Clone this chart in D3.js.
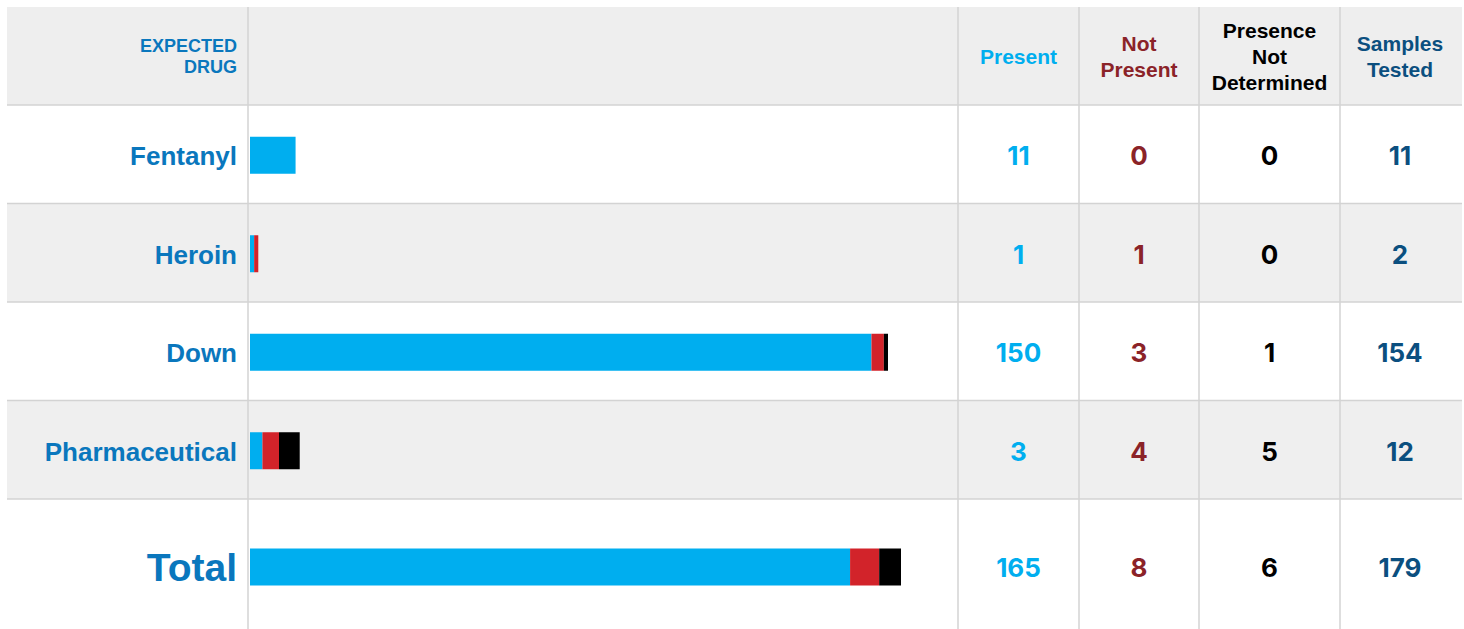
<!DOCTYPE html>
<html>
<head>
<meta charset="utf-8">
<script src="https://cdn.jsdelivr.net/npm/d3@7"></script>
<style>
  body { margin: 0; background: #fff; }
  svg { display: block; }
</style>
</head>
<body>
<div id="chart"></div>
<script>
// table data
const drugs = ['Fentanyl', 'Heroin', 'Down', 'Pharmaceutical'];
const present = [11, 1, 150, 3];
const notPresent = [0, 1, 3, 4];
const notDetermined = [0, 0, 1, 5];
const tested = [11, 2, 154, 12];
const totals = [165, 8, 6, 179];

const columnHeaders = [['Present'], ['Not', 'Present'], ['Presence', 'Not', 'Determined'], ['Samples', 'Tested']];
const columnColors = ['#00aeef', '#8b2328', '#000000', '#0b4f7f'];
const barColors = ['#00aeef', '#d2232a', '#000000'];

const width = 1464;
const height = 629;
const tableLeft = 7, tableRight = 1462, tableTop = 7;
const headerH = 98;
const rowH = 98.5;
const labelEdge = 248;
const colEdges = [958, 1079, 1199, 1340, tableRight];
const barH = 37;

const svg = d3.select('#chart').append('svg')
  .attr('width', width)
  .attr('height', height);

const rows = drugs.map((name, i) => ({
  name,
  values: [present[i], notPresent[i], notDetermined[i], tested[i]],
  total: false
}));
rows.push({ name: 'Total', values: totals, total: true });

const rowTop = i => tableTop + headerH + i * rowH;
const rowBottom = i => rows[i].total ? height : rowTop(i + 1);

// bar scales: drug rows share one, total row has its own
const x = d3.scaleLinear().domain([0, d3.max(tested)]).range([0, 638]);
const xTotal = d3.scaleLinear().domain([0, totals[3]]).range([0, 651]);

// backgrounds
svg.append('rect')
  .attr('x', tableLeft).attr('y', tableTop)
  .attr('width', tableRight - tableLeft).attr('height', headerH)
  .attr('fill', '#eeeeee');

rows.forEach((r, i) => {
  svg.append('rect')
    .attr('x', tableLeft).attr('y', rowTop(i))
    .attr('width', tableRight - tableLeft).attr('height', rowBottom(i) - rowTop(i))
    .attr('fill', i % 2 === 1 ? '#efefef' : '#ffffff');
});

// grid lines
rows.forEach((r, i) => {
  svg.append('line')
    .attr('x1', tableLeft).attr('x2', tableRight)
    .attr('y1', rowTop(i)).attr('y2', rowTop(i))
    .attr('stroke', '#d3d3d3').attr('stroke-width', 1.5);
});

[labelEdge, ...colEdges.slice(0, 4)].forEach(cx => {
  svg.append('line')
    .attr('x1', cx).attr('x2', cx)
    .attr('y1', tableTop).attr('y2', height)
    .attr('stroke', '#d3d3d3').attr('stroke-width', 1.5);
});

// header
const header = svg.append('g')
  .attr('font-family', 'Liberation Sans, Arial, sans-serif')
  .attr('font-weight', 'bold');

header.selectAll('text.expected')
  .data(['EXPECTED', 'DRUG'])
  .join('text')
    .attr('x', 237)
    .attr('y', (d, j) => 52 + j * 21)
    .attr('text-anchor', 'end')
    .attr('font-size', 18)
    .attr('fill', '#0a77bd')
    .text(d => d);

columnHeaders.forEach((lines, c) => {
  const cx = (colEdges[c] + colEdges[c + 1]) / 2 + (c === 3 ? -1 : 0);
  const mid = tableTop + headerH / 2;
  header.selectAll(null)
    .data(lines)
    .join('text')
      .attr('x', cx)
      .attr('y', (d, j) => mid + (j - (lines.length - 1) / 2) * 26 + 8)
      .attr('text-anchor', 'middle')
      .attr('font-size', 21)
      .attr('fill', columnColors[c])
      .text(d => d);
});

// rows
rows.forEach((r, i) => {
  const cy = (rowTop(i) + rowBottom(i)) / 2 + (r.total ? 3 : 1);
  const scale = r.total ? xTotal : x;

  svg.append('text')
    .attr('x', 237)
    .attr('y', cy + (r.total ? 14 : 10))
    .attr('text-anchor', 'end')
    .attr('font-family', 'Liberation Sans, Arial, sans-serif')
    .attr('font-weight', 'bold')
    .attr('font-size', r.total ? 39 : 26)
    .attr('fill', '#0a77bd')
    .text(r.name);

  const parts = r.values.slice(0, 3);
  const starts = d3.cumsum([0, ...parts]);
  svg.append('g')
    .selectAll('rect')
    .data(parts)
    .join('rect')
      .attr('x', (d, j) => 250 + scale(starts[j]))
      .attr('y', cy - barH / 2)
      .attr('width', d => scale(d))
      .attr('height', barH)
      .attr('fill', (d, j) => barColors[j]);

  svg.append('g')
    .selectAll('text')
    .data(r.values)
    .join('text')
      .attr('x', (d, c) => (colEdges[c] + colEdges[c + 1]) / 2 + (c === 3 ? -1 : 0))
      .attr('y', cy + 10)
      .attr('text-anchor', 'middle')
      .attr('font-family', 'Inter, Roboto, sans-serif')
      .attr('font-weight', 'bold')
      .attr('font-size', 26)
      .attr('fill', (d, c) => columnColors[c])
      .text(d => d);
});
</script>
</body>
</html>
